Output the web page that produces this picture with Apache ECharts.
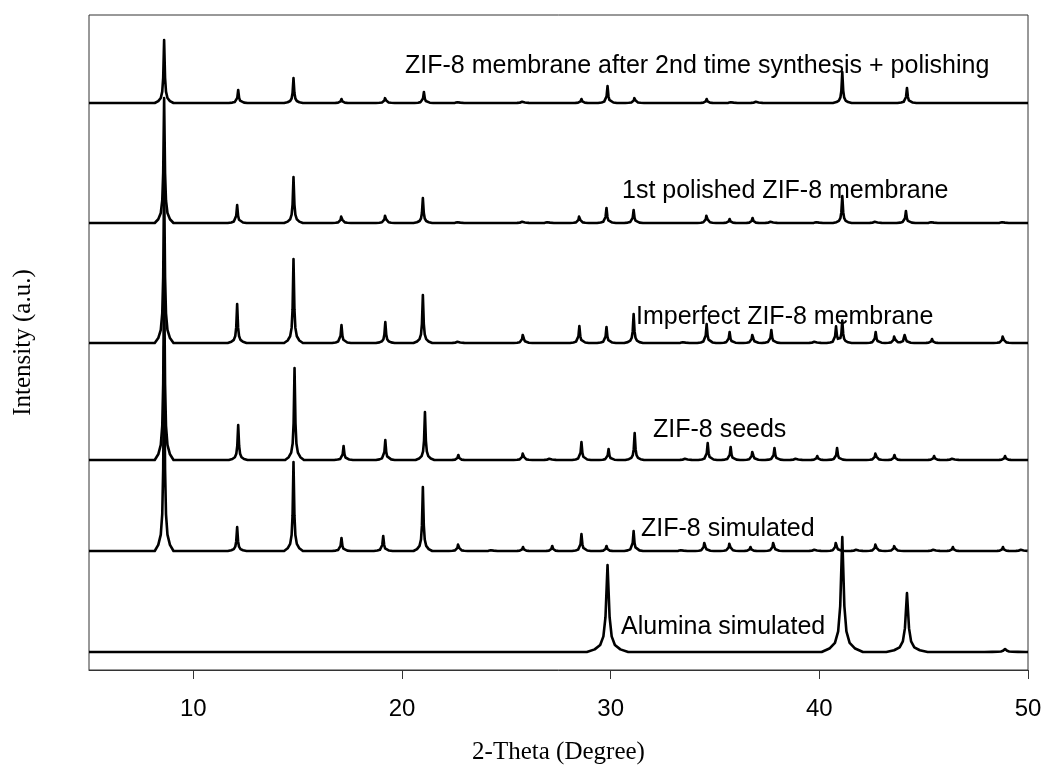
<!DOCTYPE html>
<html>
<head>
<meta charset="utf-8">
<title>XRD patterns</title>
<script src="https://cdn.jsdelivr.net/npm/echarts@6/dist/echarts.min.js"></script>
<style>
  html, body { margin: 0; padding: 0; background: #fff; }
  #chart { width: 1045px; height: 779px; }
</style>
</head>
<body>
<div id="chart"></div>
<script>
// 2-theta range and tick labels
const xMin = 5
const xMax = 50
const xTicks = [10, 20, 30, 40, 50]

// traces from top to bottom
const traceNames = [
  'ZIF-8 membrane after 2nd time synthesis + polishing',
  '1st polished ZIF-8 membrane',
  'Imperfect ZIF-8 membrane',
  'ZIF-8 seeds',
  'ZIF-8 simulated',
  'Alumina simulated'
]
// vertical offset of each baseline (a.u.)
const baselines = [567, 447, 327, 210, 119, 18]
// peak width factor per trace
const peakWidths = [1, 1, 1, 1, 1, 2.2]

// peaks: [2-theta, height a.u.]
const peaksSecondSynthesis = [
  [8.6, 63], [12.15, 13], [14.8, 25], [17.1, 4], [19.2, 6], [21.05, 11], [22.7, 2],
  [25.8, 3], [28.6, 4], [29.85, 17], [31.15, 6], [34.6, 4], [35.8, 2], [37.0, 3],
  [41.1, 31], [44.2, 15]
]
const peaksFirstPolished = [
  [8.6, 125], [12.1, 18], [14.8, 46], [17.1, 8], [19.2, 9], [21.0, 25], [22.7, 2],
  [25.8, 3], [27.0, 2], [28.5, 8], [29.8, 15], [31.1, 13], [34.6, 9], [35.7, 4],
  [36.8, 5], [37.7, 3], [39.9, 2], [41.1, 27], [42.7, 3], [44.15, 12], [45.4, 2], [48.8, 2]
]
const peaksImperfect = [
  [8.6, 165], [12.1, 39], [14.8, 84], [17.1, 18], [19.2, 21], [21.0, 48], [22.7, 3],
  [25.8, 10], [28.5, 17], [29.8, 16], [31.1, 29], [33.5, 2], [34.6, 19], [35.7, 11],
  [36.8, 10], [37.7, 13], [39.8, 3], [40.8, 16], [41.1, 22], [42.7, 11], [43.6, 8],
  [44.1, 10], [45.4, 4], [48.8, 8]
]
const peaksSeeds = [
  [8.6, 190], [12.15, 35], [14.85, 92], [17.2, 14], [19.2, 20], [21.1, 48], [22.7, 5],
  [25.8, 8], [27.1, 3], [28.6, 18], [29.9, 11], [31.15, 27], [33.6, 3], [34.65, 17],
  [35.75, 13], [36.8, 10], [37.85, 12], [38.9, 3], [39.9, 4], [40.85, 12], [42.7, 8],
  [43.6, 5], [45.5, 4], [46.4, 3], [48.9, 4]
]
const peaksSimulated = [
  [8.6, 205], [12.1, 24], [14.8, 89], [17.1, 13], [19.1, 15], [21.0, 64], [22.7, 8],
  [24.3, 2], [25.8, 4], [27.2, 5], [28.6, 17], [29.8, 5], [31.1, 20], [33.4, 2],
  [34.5, 10], [35.7, 9], [36.7, 4], [37.8, 10], [39.8, 3], [40.8, 10], [41.8, 3],
  [42.7, 8], [43.6, 6], [45.5, 3], [46.4, 4], [48.8, 4], [49.7, 3]
]
const peaksAlumina = [
  [29.85, 87], [41.1, 115], [44.2, 59], [48.9, 3]
]

const tracePeaks = [
  peaksSecondSynthesis, peaksFirstPolished, peaksImperfect,
  peaksSeeds, peaksSimulated, peaksAlumina
]

// peak outline (relative 2-theta offsets and fraction of peak height)
const outlineOffsets = [-0.45, -0.28, -0.16, -0.09, -0.045, -0.015, 0, 0.015, 0.045, 0.09, 0.16, 0.28, 0.45]
const outlineFractions = [0, 0.03, 0.08, 0.18, 0.4, 0.8, 1, 0.8, 0.4, 0.18, 0.08, 0.03, 0]

function outlineAt (dx, width) {
  const u = dx / width
  const last = outlineOffsets.length - 1
  if (u <= outlineOffsets[0] || u >= outlineOffsets[last]) return 0
  for (let i = 0; i < last; i++) {
    if (u >= outlineOffsets[i] && u <= outlineOffsets[i + 1]) {
      const t = (u - outlineOffsets[i]) / (outlineOffsets[i + 1] - outlineOffsets[i])
      return outlineFractions[i] + t * (outlineFractions[i + 1] - outlineFractions[i])
    }
  }
  return 0
}

function buildTrace (peaks, base, width) {
  const xs = [xMin, xMax]
  peaks.forEach(p => {
    outlineOffsets.forEach(o => xs.push(+(p[0] + o * width).toFixed(4)))
  })
  const sorted = Array.from(new Set(xs))
    .filter(x => x >= xMin && x <= xMax)
    .sort((a, b) => a - b)
  return sorted.map(x => {
    let y = base
    peaks.forEach(p => { y += p[1] * outlineAt(x - p[0], width) })
    return [x, y]
  })
}

// label placement (left x px, middle y px)
const labelPos = [[405, 65], [622, 190], [636, 316], [653, 429], [641, 528], [621, 626]]

const chart = echarts.init(document.getElementById('chart'))

const series = traceNames.map((name, i) => ({
  name: name,
  type: 'line',
  symbol: 'none',
  animation: false,
  lineStyle: { color: '#000', width: 2.6, join: 'round' },
  data: buildTrace(tracePeaks[i], baselines[i], peakWidths[i])
}))

chart.setOption({
  backgroundColor: '#fff',
  animation: false,
  grid: {
    left: 89,
    right: 17,
    top: 15,
    bottom: 109,
    show: true,
    borderColor: '#333',
    borderWidth: 1
  },
  xAxis: {
    type: 'value',
    min: xMin,
    max: xMax,
    name: '2-Theta (Degree)',
    nameLocation: 'middle',
    nameGap: 70,
    nameTextStyle: {
      fontFamily: 'Liberation Serif',
      fontSize: 25,
      color: '#000'
    },
    axisLine: { show: true, lineStyle: { color: '#333', width: 1 } },
    axisTick: {
      show: true,
      inside: false,
      length: 9,
      customValues: xTicks,
      lineStyle: { color: '#333', width: 1 }
    },
    axisLabel: {
      customValues: xTicks,
      margin: 27,
      fontFamily: 'Liberation Sans',
      fontSize: 24,
      color: '#000'
    },
    splitLine: { show: false }
  },
  yAxis: {
    type: 'value',
    min: 0,
    max: 655,
    name: 'Intensity (a.u.)',
    nameLocation: 'middle',
    nameRotate: 90,
    nameGap: 53,
    nameTextStyle: {
      fontFamily: 'Liberation Serif',
      fontSize: 25,
      color: '#000'
    },
    axisLine: { show: false },
    axisTick: { show: false },
    axisLabel: { show: false },
    splitLine: { show: false }
  },
  graphic: traceNames.map((name, i) => ({
    type: 'text',
    left: labelPos[i][0],
    top: labelPos[i][1] - 11,
    z: 100,
    style: {
      text: name,
      fill: '#000',
      font: '25px "Liberation Sans"'
    }
  })),
  series: series
})
</script>
</body>
</html>
